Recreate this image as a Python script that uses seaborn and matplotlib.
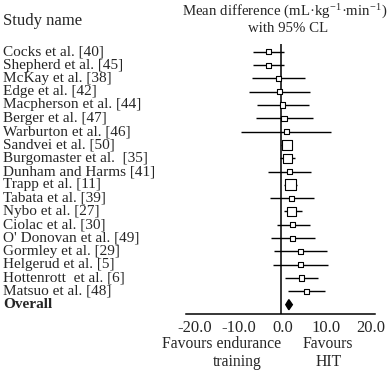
import pandas as pd
import matplotlib
matplotlib.use("Agg")
import matplotlib.pyplot as plt
import matplotlib.transforms as mtransforms
import seaborn as sns

# estudios y diferencias de medias (mL/kg/min) con IC 95%
studies = ["Cocks et al. [40]", "Shepherd et al. [45]", "McKay et al. [38]",
           "Edge et al. [42]", "Macpherson et al. [44]", "Berger et al. [47]",
           "Warburton et al. [46]", "Sandvei et al. [50]", "Burgomaster et al.  [35]",
           "Dunham and Harms [41]", "Trapp et al. [11]", "Tabata et al. [39]",
           "Nybo et al. [27]", "Ciolac et al. [30]", "O' Donovan et al. [49]",
           "Gormley et al. [29]", "Helgerud et al. [5]", "Hottenrott  et al. [6]",
           "Matsuo et al. [48]"]
mean_diff = [-2.8, -2.7, -0.4, -0.3, 0.5, 0.8, 1.3, 1.4, 1.6, 2.1, 2.2, 2.6,
             2.6, 2.8, 2.8, 4.5, 4.5, 4.8, 5.9]
ci_low = [-6.3, -6.3, -6.5, -7.1, -5.3, -5.6, -9.0, 0.2, -0.1, -2.9, 0.8, -2.4,
          0.8, -0.9, -2.1, -1.5, -1.6, 1.0, 1.6]
ci_high = [0.7, 0.7, 5.6, 6.6, 6.4, 7.4, 11.5, 2.7, 3.3, 7.0, 3.8, 7.7,
           4.8, 6.7, 7.8, 10.5, 10.7, 8.6, 10.2]
weight = [2.5, 2.5, 2.6, 2.6, 2.6, 2.6, 2.5, 10.1, 8.1, 2.6, 12.0, 2.6,
          8.1, 2.6, 2.5, 2.5, 2.5, 2.7, 2.7]
overall = {"md": 1.9, "lo": 1.2, "hi": 2.7}
xticks = [-20, -10, 0, 10, 20]

df = pd.DataFrame({"study": studies, "md": mean_diff, "lo": ci_low,
                   "hi": ci_high, "weight": weight})
df["row"] = range(len(df))
n_over = len(df)

sns.set_style("white")
plt.rcParams["font.family"] = ["Liberation Serif", "DejaVu Serif"]
plt.rcParams["mathtext.fontset"] = "stix"
plt.rcParams["axes.unicode_minus"] = False

fig = plt.figure(figsize=(3.88, 3.73), dpi=100)
W, H = 388, 373
ax = fig.add_axes([186 / W, 1 - 314 / H, (375 - 186) / W, (314 - 44) / H])

ax.hlines(df["row"], df["lo"], df["hi"], color="black", lw=1.0, zorder=2)
ax.axvline(0, color="black", lw=1.1, zorder=1)
sns.scatterplot(data=df, x="md", y="row", size="weight", sizes=(13, 62),
                marker="s", facecolor="white", edgecolor="black", linewidth=0.8,
                legend=False, ax=ax, zorder=3)

h = 0.38
ax.fill([overall["lo"], overall["md"], overall["hi"], overall["md"]],
        [n_over, n_over - h, n_over, n_over + h], color="black", zorder=3)

ax.set_xlim(-21.5, 21.5)
ax.set_ylim(19.7, -0.58)
ax.set_xticks(xticks)
ax.set_xticklabels([f"{t:.1f}" for t in xticks], fontsize=12)
ax.tick_params(axis="x", length=0, pad=4)
shift = mtransforms.ScaledTranslation(2 / 100, 0, fig.dpi_scale_trans)
for lbl in ax.get_xticklabels():
    lbl.set_transform(lbl.get_transform() + shift)
ax.set_yticks([])
ax.set_xlabel("")
ax.set_ylabel("")
for s in ["top", "left", "right"]:
    ax.spines[s].set_visible(False)
ax.spines["bottom"].set_linewidth(1.1)
ax.spines["bottom"].set_color("black")

trans = mtransforms.blended_transform_factory(fig.transFigure, ax.transData)
for r, name in zip(df["row"], df["study"]):
    fig.text(3 / W, r, name, transform=trans, fontsize=11, va="center", ha="left")
fig.text(3 / W, n_over, "Overall", transform=trans, fontsize=11,
         fontweight="bold", va="center", ha="left")

fig.text(3 / W, 1 - 21 / H, "Study name", fontsize=12, va="center", ha="left")
fig.text(285 / W, 1 - 11 / H,
         r"Mean difference (mL·kg$^{\mathregular{-1}}$·min$^{\mathregular{-1}}$)",
         fontsize=10.7, va="center", ha="center")
fig.text(288 / W, 1 - 29 / H, "with 95% CL", fontsize=10.7, va="center", ha="center")
fig.text(222 / W, 1 - 344 / H, "Favours endurance", fontsize=11.3,
         va="center", ha="center")
fig.text(237 / W, 1 - 362 / H, "training", fontsize=11.3,
         va="center", ha="center")
fig.text(327.5 / W, 1 - 344 / H, "Favours", fontsize=11.3,
         va="center", ha="center")
fig.text(329 / W, 1 - 362 / H, "HIT", fontsize=11.3,
         va="center", ha="center")

fig.savefig("out.png", dpi=100)
